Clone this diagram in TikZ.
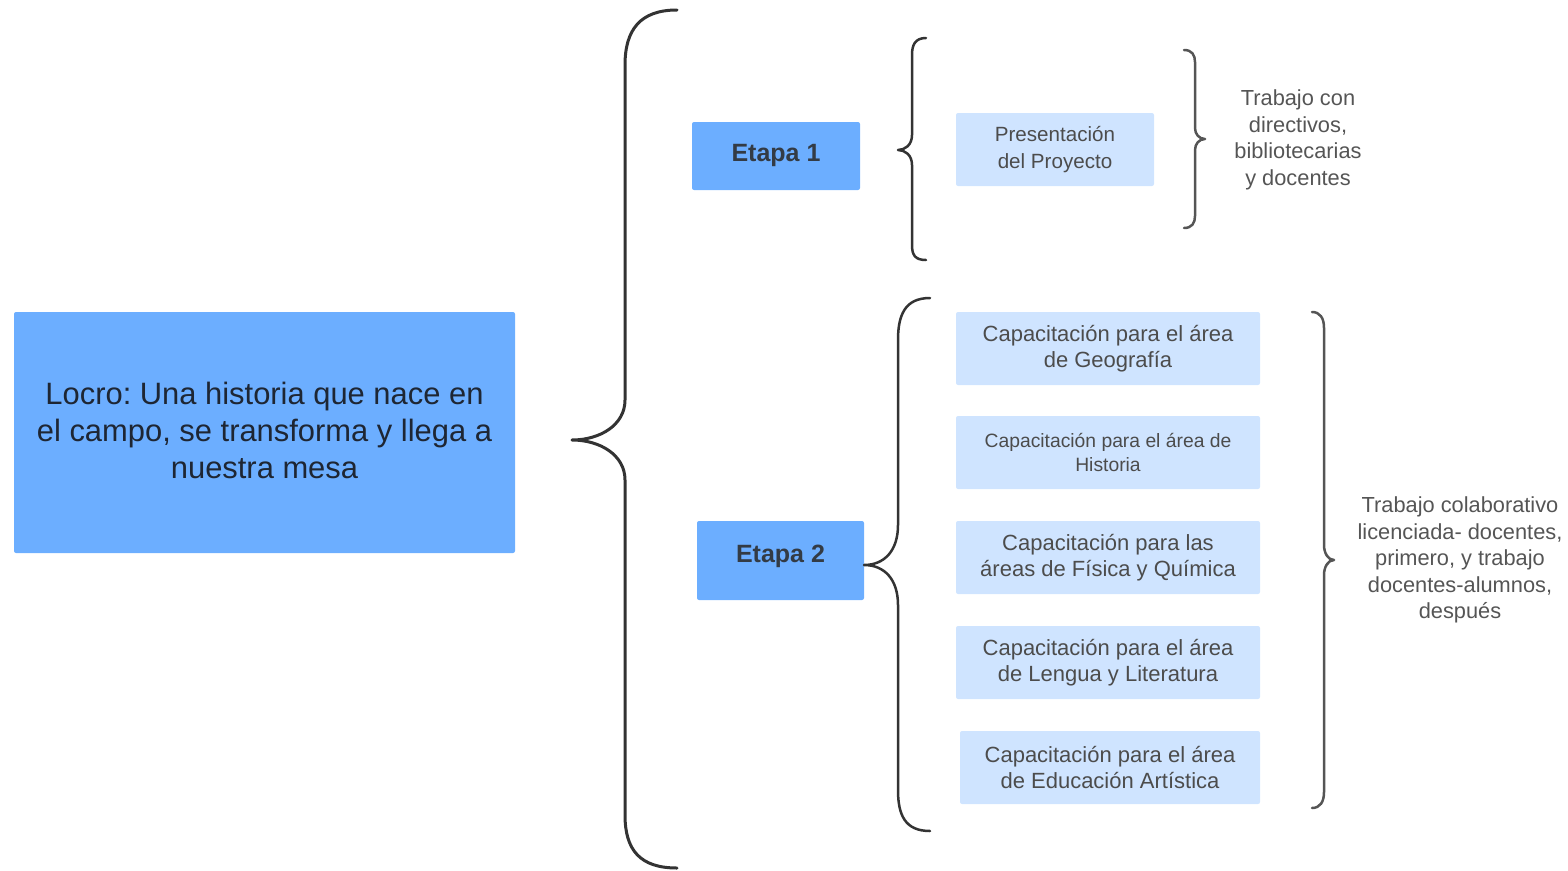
\documentclass[tikz,border=0pt]{standalone}
\usepackage{fontspec}
\setmainfont{Liberation Sans}
\frenchspacing
\definecolor{mainblue}{HTML}{6CAEFF}
\definecolor{lightblue}{HTML}{CFE4FF}
\definecolor{darktext}{HTML}{1E2633}
\definecolor{etaptext}{HTML}{333B45}
\definecolor{boxtext}{HTML}{4C4C4C}
\definecolor{sidetext}{HTML}{555555}
\definecolor{bracedark}{HTML}{333333}
\definecolor{bracegrey}{HTML}{555555}
\tikzset{
  mainbox/.style={fill=mainblue, rounded corners=2pt, inner sep=0pt, align=center, text=darktext},
  etapabox/.style={fill=mainblue, rounded corners=2pt, inner sep=0pt, align=center, text=etaptext, font=\fontsize{25}{29}\selectfont\bfseries},
  itembox/.style={fill=lightblue, rounded corners=2pt, inner sep=0pt, align=center, text=boxtext},
  sidelabel/.style={inner sep=0pt, align=center, text=sidetext, font=\fontsize{21.8}{26.5}\selectfont},
  bigbrace/.style={draw=bracedark, line width=3pt, line cap=round, line join=round},
  greybrace/.style={draw=bracegrey, line width=2.5pt, line cap=round, line join=round}
}
\begin{document}
\begin{tikzpicture}[x=1pt,y=-1pt]
\useasboundingbox (0,0) rectangle (1568,870);

% main box
\node[mainbox, minimum width=501, minimum height=241] (main) at (264.5,432.5) {};
\node[inner sep=0pt, align=center, text=darktext, font=\fontsize{30.9}{37}\selectfont] (maintext) at (264.5,430)
  {Locro: Una historia que nace en\\el campo, se transforma y llega a\\nuestra mesa};

% big brace
\draw[bigbrace] (677,10) .. controls (640,10) and (625,30) .. (625,65) -- (625,400)
  .. controls (625,425) and (600,440) .. (572,440)
  .. controls (600,440) and (625,455) .. (625,480) -- (625,815)
  .. controls (625,850) and (640,868) .. (677,868);

% etapas
\node[etapabox, minimum width=168, minimum height=68] (e1) at (776,156) {};
\node[inner sep=0pt, text=etaptext, font=\fontsize{25}{29}\selectfont\bfseries] (e1t) at (776,155) {Etapa 1};
\node[etapabox, minimum width=167, minimum height=79] (e2) at (780.5,560.5) {};
\node[inner sep=0pt, text=etaptext, font=\fontsize{25}{29}\selectfont\bfseries] (e2t) at (780.5,556) {Etapa 2};

% brace etapa 1
\draw[bigbrace, line width=2.5pt] (926,38) .. controls (915,38) and (912,45) .. (912,55) -- (912,135)
  .. controls (912,145) and (905,150) .. (898,150)
  .. controls (905,150) and (912,155) .. (912,165) -- (912,245)
  .. controls (912,255) and (915,260) .. (926,260);

\node[itembox, minimum width=198, minimum height=73] (p1) at (1055,149.5) {};
\node[inner sep=0pt, align=center, text=boxtext, font=\fontsize{20.6}{26.5}\selectfont] (p1t) at (1055,149.5)
  {Presentación\\del Proyecto};

% right brace 1
\draw[greybrace] (1184,50) .. controls (1192,50) and (1195,55) .. (1195,62) -- (1195,128)
  .. controls (1195,134) and (1199,139) .. (1205,139)
  .. controls (1199,139) and (1195,144) .. (1195,150) -- (1195,216)
  .. controls (1195,223) and (1192,228) .. (1184,228);
\node[sidelabel] (s1) at (1298,140) {Trabajo con\\directivos,\\bibliotecarias\\y docentes};

% brace etapa 2
\draw[bigbrace, line width=2.5pt] (930,298) .. controls (905,298) and (898,315) .. (898,340) -- (898,525)
  .. controls (898,550) and (885,565) .. (864,565)
  .. controls (885,565) and (898,580) .. (898,605) -- (898,790)
  .. controls (898,815) and (905,831) .. (930,831);

\node[itembox, minimum width=304, minimum height=73, font=\fontsize{22}{26.5}\selectfont] (c1) at (1108,348.5)
  {Capacitación para el área\\de Geografía};
\node[itembox, minimum width=304, minimum height=73, font=\fontsize{19.3}{23.5}\selectfont] (c2) at (1108,452.5)
  {Capacitación para el área de\\Historia};
\node[itembox, minimum width=304, minimum height=73, font=\fontsize{22}{26.5}\selectfont] (c3) at (1108,557.5)
  {Capacitación para las\\áreas de Física y Química};
\node[itembox, minimum width=304, minimum height=73, font=\fontsize{22}{26.5}\selectfont] (c4) at (1108,662.5)
  {Capacitación para el área\\de Lengua y Literatura};
\node[itembox, minimum width=300, minimum height=73, font=\fontsize{22}{26.5}\selectfont] (c5) at (1110,767.5)
  {Capacitación para el área\\de Educación Artística};

% right brace 2
\draw[greybrace] (1312,312) .. controls (1320,312) and (1324,318) .. (1324,328) -- (1324,545)
  .. controls (1324,553) and (1328,560) .. (1334,560)
  .. controls (1328,560) and (1324,567) .. (1324,575) -- (1324,792)
  .. controls (1324,802) and (1320,808) .. (1312,808);
\node[sidelabel] (s2) at (1460,560) {Trabajo colaborativo\\licenciada- docentes,\\primero, y trabajo\\docentes-alumnos,\\después};
\end{tikzpicture}
\end{document}
